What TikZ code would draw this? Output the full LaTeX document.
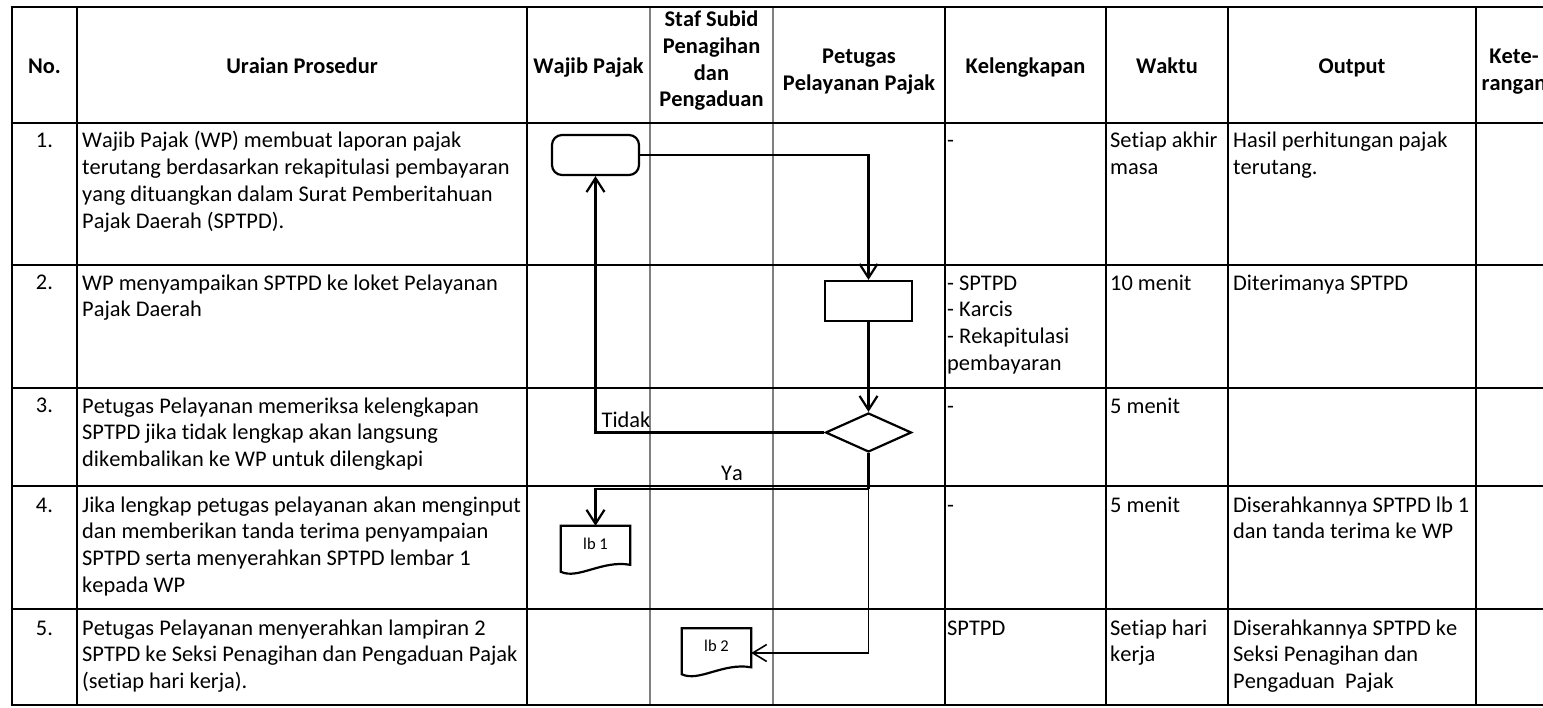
\documentclass[tikz,border=0pt]{standalone}
\usepackage{fontspec}
\setmainfont{Carlito}[Ligatures=NoCommon, Kerning=Off]
\usetikzlibrary{arrows.meta,shapes.geometric,calc}
\definecolor{lanegray}{RGB}{128,128,128}
\begin{document}
\begin{tikzpicture}[x=1pt,y=-1pt,
  tab/.style={line width=2.6pt, black},
  lane/.style={line width=2.2pt, lanegray},
  flow/.style={line width=2.2pt, black},
  arr/.style={flow, -{Straight Barb[length=14pt,width=18pt]}},
  arrthin/.style={line width=1.6pt, black, -{Straight Barb[length=14pt,width=17pt]}},
  txt/.style={font=\fontsize{22.4}{26.8}\selectfont, inner sep=0pt, align=left, anchor=north west},
  hd/.style={font=\bfseries\fontsize{22.4}{26.8}\selectfont, inner sep=0pt, align=center},
  num/.style={font=\fontsize{22.4}{26.8}\selectfont, inner sep=0pt, anchor=base},
  lbl/.style={font=\fontsize{22.4}{26.8}\selectfont, inner sep=0pt},
  docnode/.style={font=\fontsize{16.5}{19}\selectfont, minimum width=69pt, minimum height=49pt, inner sep=0pt, text height=11pt, text depth=14pt},
]
\useasboundingbox (0,0) rectangle (1543,708);
\fill[white] (0,0) rectangle (1543,708);

% ---------- grid ----------
\foreach \x in {650,773} \draw[lane] (\x,7) -- (\x,705);
\foreach \x in {12,77,527,945,1106,1228,1476} \draw[tab] (\x,7) -- (\x,705);
\foreach \y in {7,123,265,388,486,609,705} \draw[tab] (10.7,\y) -- (1550,\y);

% ---------- header ----------
\node[hd, anchor=base] (hno) at (44.5,74) {No.};
\node[hd, anchor=base] (hur) at (302,74) {Uraian Prosedur};
\node[hd, anchor=base] (hwp) at (588.5,74) {Wajib Pajak};
\node[hd, anchor=north] (hst) at (711.5,7.5) {\strut Staf Subid\\Penagihan\\dan\\Pengaduan};
\node[hd, anchor=north] (hpp) at (859,44.5) {\strut Petugas\\Pelayanan Pajak};
\node[hd, anchor=base] (hkl) at (1025.5,74) {Kelengkapan};
\node[hd, anchor=base] (hwk) at (1167,74) {Waktu};
\node[hd, anchor=base] (hou) at (1352,74) {Output};
\node[hd, anchor=north] (hkt) at (1514,44.5) {\strut Kete-\\rangan};

% ---------- row 1 ----------
\node[num] (n1) at (44.5,147.5) {1.};
\node[txt] (u1) at (82,128.7) {\strut Wajib Pajak (WP) membuat laporan pajak\\terutang berdasarkan rekapitulasi pembayaran\\yang dituangkan dalam Surat Pemberitahuan\\Pajak Daerah (SPTPD).};
\node[txt] (k1) at (947,128.7) {\strut -};
\node[txt] (w1) at (1110,128.7) {\strut Setiap akhir\\masa};
\node[txt] (o1) at (1233,128.7) {\strut Hasil perhitungan pajak\\terutang.};

% ---------- row 2 ----------
\node[num] (n2) at (44.5,290) {2.};
\node[txt] (u2) at (82,271.2) {\strut WP menyampaikan SPTPD ke loket Pelayanan\\Pajak Daerah};
\node[txt] (k2) at (947,271.2) {\strut - SPTPD\\- Karcis\\- Rekapitulasi\\pembayaran};
\node[txt] (w2) at (1110,271.2) {\strut 10 menit};
\node[txt] (o2) at (1233,271.2) {\strut Diterimanya SPTPD};

% ---------- row 3 ----------
\node[num] (n3) at (44.5,413) {3.};
\node[txt] (u3) at (82,394.2) {\strut Petugas Pelayanan memeriksa kelengkapan\\SPTPD jika tidak lengkap akan langsung\\dikembalikan ke WP untuk dilengkapi};
\node[txt] (k3) at (947,394.2) {\strut -};
\node[txt] (w3) at (1110,394.2) {\strut 5 menit};

% ---------- row 4 ----------
\node[num] (n4) at (44.5,512) {4.};
\node[txt] (u4) at (82,493.2) {\strut Jika lengkap petugas pelayanan akan menginput\\dan memberikan tanda terima penyampaian\\SPTPD serta menyerahkan SPTPD lembar 1\\kepada WP};
\node[txt] (k4) at (947,493.2) {\strut -};
\node[txt] (w4) at (1110,493.2) {\strut 5 menit};
\node[txt] (o4) at (1233,493.2) {\strut Diserahkannya SPTPD lb 1\\dan tanda terima ke WP};

% ---------- row 5 ----------
\node[num] (n5) at (44.5,635) {5.};
\node[txt] (u5) at (82,616.2) {\strut Petugas Pelayanan menyerahkan lampiran 2\\SPTPD ke Seksi Penagihan dan Pengaduan Pajak\\(setiap hari kerja).};
\node[txt] (k5) at (947,616.2) {\strut SPTPD};
\node[txt] (w5) at (1110,616.2) {\strut Setiap hari\\kerja};
\node[txt] (o5) at (1233,616.2) {\strut Diserahkannya SPTPD ke\\Seksi Penagihan dan\\Pengaduan\ \ Pajak};

% ---------- flowchart ----------
\node[draw, flow, fill=white, rounded corners=10pt, minimum width=87pt, minimum height=40pt] (t1) at (595.5,155) {};
\node[draw, flow, fill=white, minimum width=87pt, minimum height=40pt] (p1) at (868.5,301) {};
\node[draw, flow, fill=white, diamond, inner sep=0pt, minimum width=86pt, minimum height=39pt] (d1) at (868.5,432.5) {};
\node[docnode] (lb1) at (595.5,550.5) {lb 1};
\node[docnode] (lb2) at (716.5,653) {lb 2};

\draw[flow] (lb1.north west) -- (lb1.north east) -- ($(lb1.north east)+(0,39)$)
  .. controls ($(lb1.north west)+(41.4,34)$) and ($(lb1.north west)+(17.25,54)$) .. ($(lb1.north west)+(0,46)$) -- cycle;
\draw[flow] (lb2.north west) -- (lb2.north east) -- ($(lb2.north east)+(0,39)$)
  .. controls ($(lb2.north west)+(41.4,34)$) and ($(lb2.north west)+(17.25,54)$) .. ($(lb2.north west)+(0,46)$) -- cycle;

\coordinate (ya) at ($(d1.south)+(0,36)$);

\draw[arr] (t1.east) -| (p1.north);
\draw[arr] (p1.south) -- (d1.north);
\draw[arr] (d1.west) -| (t1.south) node[lbl, pos=0.5, anchor=base west, xshift=5pt, yshift=5pt] (tidak) {Tidak};
\draw[flow] (d1.south) -- (ya);
\draw[arr] (ya) -| (lb1.north) node[lbl, pos=0.25, anchor=base, yshift=9pt] (yalbl) {Ya};
\draw[arrthin] (ya) |- (lb2.east);
\end{tikzpicture}
\end{document}
